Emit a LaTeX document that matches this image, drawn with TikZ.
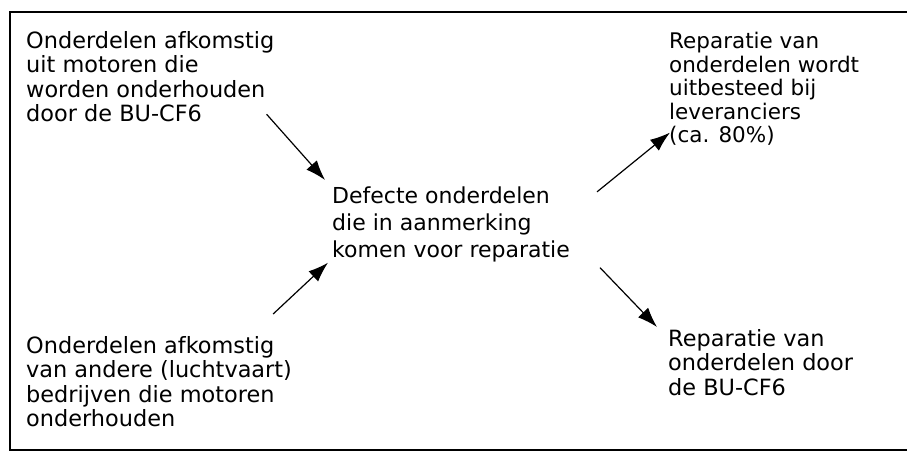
\documentclass[tikz,border=0pt]{standalone}
\usepackage{fontspec}
\setmainfont{DejaVu Sans}
\usetikzlibrary{arrows.meta}
\tikzset{
    blok/.style={inner sep=0pt, anchor=north west, align=left, font=\fontsize{22.4}{24.5}\selectfont},
    pijl/.style={-{Latex[length=20pt,width=14pt]}, line width=1.2pt}
}
\begin{document}
\begin{tikzpicture}[x=1pt,y=-1pt]
    \useasboundingbox (0,0) rectangle (907,454);
    \draw[line width=2.8pt] (907,12) -- (10,12) -- (10,450) -- (907,450); % kader
    \node[blok] (bron1) at (26,31) {Onderdelen afkomstig\\uit motoren die\\worden onderhouden\\door de BU-CF6};
    \node[blok] (bron2) at (26,336) {Onderdelen afkomstig\\van andere (luchtvaart)\\bedrijven die motoren\\onderhouden};
    \node[blok, font=\fontsize{22}{27}\selectfont] (defect) at (332,187) {Defecte onderdelen\\die in aanmerking\\komen voor reparatie};
    \node[blok, font=\fontsize{21.5}{23.5}\selectfont] (extern) at (669,32) {Reparatie van\\onderdelen wordt\\uitbesteed bij\\leveranciers\\(ca. 80\%)};
    \node[blok] (intern) at (668,329) {Reparatie van\\onderdelen door\\de BU-CF6};
    % pijlen
    \draw[pijl] ([xshift=-8pt,yshift=8pt]bron1.south east) -- ([xshift=-7pt,yshift=7pt]defect.north west);
    \draw[pijl] ([xshift=-19pt,yshift=22pt]bron2.north east) -- ([xshift=-4pt]defect.south west);
    \draw[pijl] ([xshift=27pt,yshift=33pt]defect.east) -- ([xshift=1pt,yshift=13pt]extern.south west);
    \draw[pijl] ([xshift=30pt,yshift=-5pt]defect.south east) -- ([xshift=-11pt,yshift=2pt]intern.north west);
\end{tikzpicture}
\end{document}
